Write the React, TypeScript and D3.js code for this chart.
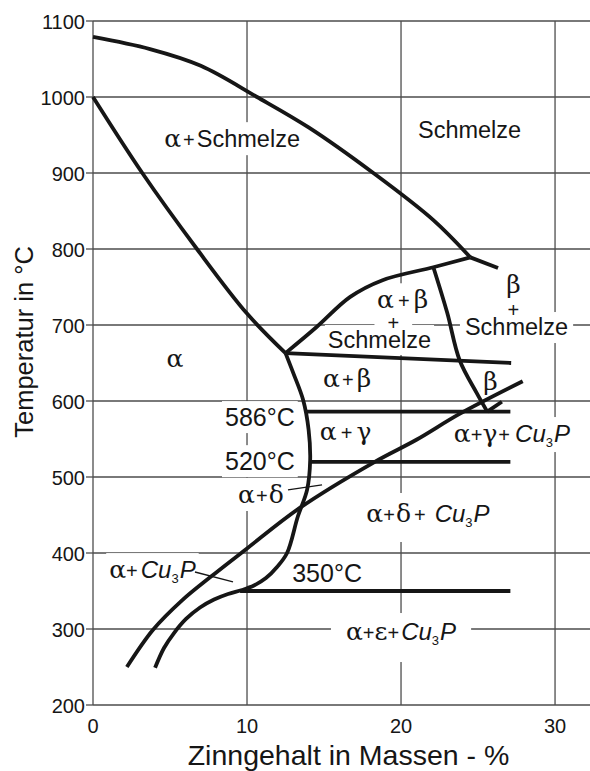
import React, { useEffect, useRef } from "react";
import * as d3 from "d3";

type Pt = [number, number];
type Part = [string, string, number?];

const W = 590;
const H = 771;

// axis ticks
const tempTicks = [200, 300, 400, 500, 600, 700, 800, 900, 1000, 1100];
const tinTicks = [0, 10, 20, 30];

// phase boundaries: [Sn mass-%, temperature °C]
const liquidus: Pt[] = [[0, 1079], [3.7, 1063], [7, 1041], [10.65, 1000], [14, 960], [18.2, 900], [22.1, 838], [24.5, 789]];
const liquidusBeta: Pt[] = [[24.5, 789], [26.3, 775]];
const solidusAlpha: Pt[] = [[0, 1000], [3.2, 900], [6.75, 800], [10, 715], [12.5, 663]];
const liquidusAlphaBeta: Pt[] = [[12.5, 663], [14.5, 697], [16.7, 737], [18.8, 759], [22.1, 776], [24.5, 789]];
const betaLeft: Pt[] = [[22.1, 776], [23.0, 716], [23.8, 654], [24.9, 611], [25.6, 586]];
const betaRight: Pt[] = [[25.6, 586], [26.55, 599]];
const solvusAlpha: Pt[] = [
  [12.5, 663], [13.0, 637], [13.65, 601], [14.0, 562], [14.1, 522], [13.9, 483], [13.3, 448],
  [12.6, 400], [11.95, 381.6], [11.23, 367], [10.45, 357.2], [9.68, 351.3], [8.77, 346.1],
  [7.86, 338.8], [6.95, 328.3], [6.04, 313.2], [5.26, 294.7], [4.61, 275], [4.03, 249],
];
const cu3pBoundary: Pt[] = [[2.2, 250], [3.9, 299], [5.8, 338], [7.6, 368], [10, 406], [13.4, 459], [18.3, 520], [21, 549], [23.8, 583], [27.9, 626]];
const peritectic: Pt[] = [[12.5, 663], [27.15, 650]];
const isotherm586: Pt[] = [[13.8, 586], [27.1, 586]];
const isotherm520: Pt[] = [[14.1, 520], [27.1, 520]];
const isotherm350: Pt[] = [[9.55, 350], [27.1, 350]];
const leaderDelta: Pt[] = [[12.66, 483], [14.87, 489.5]];
const leaderCu3P: Pt[] = [[6.62, 375], [9.09, 362]];

const curves = [liquidus, liquidusBeta, solidusAlpha, liquidusAlphaBeta, betaLeft, betaRight, solvusAlpha, cu3pBoundary];
const isotherms = [peritectic, isotherm586, isotherm520, isotherm350];
const leaders = [leaderDelta, leaderCu3P];

// Cu3P with a leading gap
const cu3p = (gap: number): Part[] => [["i", "Cu", gap], ["sub", "3", 0], ["i", "P", 1]];

// region labels: position [Sn %, °C] at baseline, parts [kind, text, gap]
const regionLabels: { at: Pt; parts: Part[]; anchor?: string; pad?: number[] }[] = [
  { at: [9.03, 934], parts: [["g", "α"], ["p", "+", 2], ["s", "Schmelze", 2]] },
  { at: [24.45, 946], parts: [["s", "Schmelze"]] },
  { at: [5.32, 645], parts: [["g", "α"]] },
  { at: [20.1, 722], parts: [["g", "α"], ["p", "+", 4], ["g", "β", 4]] },
  { at: [19.5, 693], parts: [["p", "+"]], pad: [13, 0, 0] },
  { at: [18.6, 669.7], parts: [["s", "Schmelze"]] },
  { at: [27.3, 742], parts: [["g", "β"]] },
  { at: [27.3, 710], parts: [["p", "+"]], pad: [2, 0, 0] },
  { at: [27.5, 686.8], parts: [["s", "Schmelze"]], pad: [5, 2, 3] },
  { at: [16.5, 618.4], parts: [["g", "α"], ["p", "+", 2], ["g", "β", 3]] },
  { at: [25.8, 614.5], parts: [["g", "β"]] },
  { at: [16.4, 548.7], parts: [["g", "α"], ["p", "+", 4], ["g", "γ", 4]] },
  { at: [27.2, 546], parts: [["g", "α"], ["p", "+", 0], ["g", "γ", 0], ["p", "+", 1], ...cu3p(5)] },
  { at: [10.9, 465.8], parts: [["g", "α"], ["p", "+", 1], ["g", "δ", 1]] },
  { at: [21.75, 440.8], parts: [["g", "α"], ["p", "+", 0], ["g", "δ", 1], ["p", "+", 3], ...cu3p(9)], pad: [4, 6, 12] },
  { at: [3.86, 367], parts: [["g", "α"], ["p", "+", 0], ...cu3p(3)] },
  { at: [20.0, 285.5], parts: [["g", "α"], ["p", "+", 0], ["g", "ε", 0], ["p", "+", 0], ...cu3p(2)], pad: [15, 4, 14] },
  { at: [13.1, 567], parts: [["d", "586°C"]], anchor: "end" },
  { at: [13.1, 509], parts: [["d", "520°C"]], anchor: "end" },
  { at: [15.2, 361.8], parts: [["d", "350°C"]] },
];

const SANS = "'Liberation Sans', Arial, Helvetica, sans-serif";
const GREEK = "'DejaVu Serif', 'Liberation Serif', serif";
const INK = "#161616";
const GRID = "#4d4d4d";

const styles: Record<string, { family: string; size: number; italic?: boolean }> = {
  g: { family: GREEK, size: 25 },
  s: { family: SANS, size: 23.5 },
  p: { family: SANS, size: 20 },
  i: { family: SANS, size: 24, italic: true },
  sub: { family: SANS, size: 13 },
  d: { family: SANS, size: 25 },
};

export default function App() {
  const ref = useRef<SVGSVGElement>(null);

  useEffect(() => {
    const svg = d3.select(ref.current);
    svg.selectAll("*").remove();

    const xMax = 32.27;
    const x = d3.scaleLinear().domain([0, xMax]).range([93, 590]);
    const y = d3.scaleLinear().domain([200, 1100]).range([705, 21]);

    svg.append("rect").attr("width", W).attr("height", H).attr("fill", "#fff");

    // grid
    const grid = svg.append("g").attr("stroke", GRID).attr("stroke-width", 1.3);
    grid.selectAll("line.h").data(tempTicks).join("line")
      .attr("x1", x(0)).attr("x2", x(xMax))
      .attr("y1", (d) => y(d)).attr("y2", (d) => y(d));
    grid.selectAll("line.v").data(tinTicks).join("line")
      .attr("x1", (d) => x(d)).attr("x2", (d) => x(d))
      .attr("y1", y(200)).attr("y2", y(1100));
    grid.selectAll("line.t").data(tempTicks).join("line")
      .attr("x1", x(0) - 7).attr("x2", x(0))
      .attr("y1", (d) => y(d)).attr("y2", (d) => y(d));

    // tick labels
    svg.append("g").selectAll("text").data(tempTicks).join("text")
      .attr("x", 85).attr("y", (d) => y(d) + 7.5)
      .attr("text-anchor", "end").attr("font-family", SANS).attr("font-size", 20).attr("fill", INK)
      .text((d) => d);
    svg.append("g").selectAll("text").data(tinTicks).join("text")
      .attr("x", (d) => x(d)).attr("y", 733)
      .attr("text-anchor", "middle").attr("font-family", SANS).attr("font-size", 20).attr("fill", INK)
      .text((d) => d);

    // axis titles
    svg.append("text").attr("x", 348.5).attr("y", 765).attr("text-anchor", "middle")
      .attr("font-family", SANS).attr("font-size", 28.5).attr("fill", INK)
      .text("Zinngehalt in Massen - %");
    svg.append("text").attr("transform", "translate(33,342) rotate(-90)").attr("text-anchor", "middle")
      .attr("font-family", SANS).attr("font-size", 25.5).attr("fill", INK)
      .text("Temperatur in °C");

    const bgLayer = svg.append("g");
    const lineLayer = svg.append("g");
    const textLayer = svg.append("g");

    const smooth = d3.line<Pt>().x((d) => x(d[0])).y((d) => y(d[1])).curve(d3.curveCatmullRom.alpha(0.5));
    const straight = d3.line<Pt>().x((d) => x(d[0])).y((d) => y(d[1]));

    lineLayer.selectAll("path.c").data(curves).join("path")
      .attr("d", (d) => smooth(d)).attr("fill", "none").attr("stroke", INK)
      .attr("stroke-width", 3.8).attr("stroke-linecap", "butt").attr("stroke-linejoin", "round");
    lineLayer.selectAll("path.iso").data(isotherms).join("path")
      .attr("d", (d) => straight(d)).attr("fill", "none").attr("stroke", INK).attr("stroke-width", 3.8);
    lineLayer.selectAll("path.ld").data(leaders).join("path")
      .attr("d", (d) => straight(d)).attr("fill", "none").attr("stroke", INK).attr("stroke-width", 1.3);

    regionLabels.forEach((lab) => {
      const t = textLayer.append("text")
        .attr("x", x(lab.at[0])).attr("y", y(lab.at[1]))
        .attr("text-anchor", lab.anchor ?? "middle").attr("fill", INK);
      let shift = 0;
      lab.parts.forEach(([kind, str, gap]) => {
        const st = styles[kind];
        const ts = t.append("tspan").text(str)
          .attr("font-family", st.family).attr("font-size", st.size)
          .attr("font-style", st.italic ? "italic" : "normal");
        if (gap) ts.attr("dx", gap);
        const want = kind === "sub" ? 5 : 0;
        if (want !== shift) {
          ts.attr("dy", want - shift);
          shift = want;
        }
      });
      const b = (t.node() as SVGTextElement).getBBox();
      const [px, pt, pb] = lab.pad ?? [3, 2, 2];
      bgLayer.append("rect")
        .attr("x", b.x - px).attr("y", b.y - pt)
        .attr("width", b.width + 2 * px).attr("height", b.height + pt + pb)
        .attr("fill", "#fff");
    });
  }, []);

  return (
    <svg
      ref={ref}
      width={W}
      height={H}
      viewBox={`0 0 ${W} ${H}`}
      style={{ position: "absolute", left: 0, top: 0, display: "block" }}
    />
  );
}
